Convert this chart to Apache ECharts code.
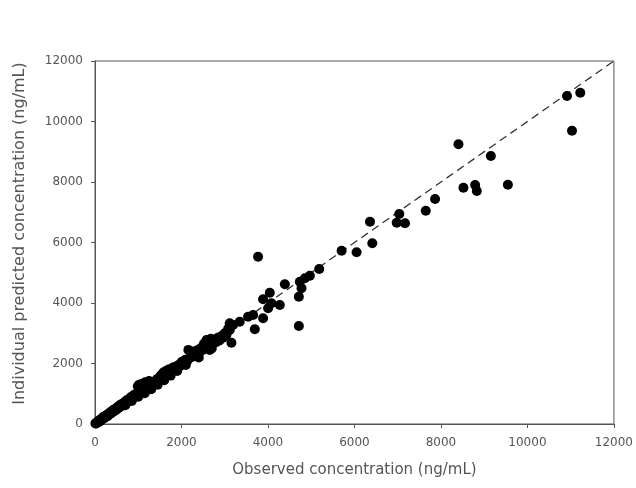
<!DOCTYPE html>
<html>
<head>
<meta charset="utf-8">
<script src="https://cdn.jsdelivr.net/npm/echarts@6/dist/echarts.min.js"></script>
<style>html,body{margin:0;padding:0;background:#fff;}#c{width:636px;height:488px;}</style>
</head>
<body>
<div id="c"></div>
<script>
var xTicks = [0, 2000, 4000, 6000, 8000, 10000, 12000];
var yTicks = [0, 2000, 4000, 6000, 8000, 10000, 12000];
var xAxisName = 'Observed concentration (ng/mL)';
var yAxisName = 'Individual predicted concentration (ng/mL)';
var identityLine = [[0, 0], [12000, 12000]];

var observed = [
  10,30,50,70,90,110,130,150,170,190,210,230,250,270,290,310,330,350,370,390,410,430,450,470,490,
  520,540,570,600,620,650,680,700,730,760,790,810,840,870,900,920,950,980,
  990,1020,1050,1080,1100,1130,1160,1190,1220,1250,1280,1310,1340,1370,1400,1430,1460,1490,
  1520,1550,1580,1610,1640,1670,1700,1730,1760,1790,1820,1850,1880,1910,1940,1970,
  2010,2050,2090,2130,2160,2190,2230,2270,2300,2340,2380,2420,2460,
  2490,2520,2560,2580,2600,2640,2652,2680,2700,2720,2760,2800,2840,2880,2920,2960,3000,3040,3080,3116,3155,3192,3116,
  700,850,1000,1150,1300,1450,1600,1750,1900,2100,2400,
  3347,3540,3656,3695,3771,3887,3887,4003,4042,4081,4274,4390,4714,4714,4737,4776,4853,4969,5185,
  5703,6050,6359,6413,6977,7037,7169,7649,7864,8405,8520,8791,8830,9154,9548,10915,11031,11222
];
var predicted = [
  20,15,60,90,70,130,110,170,160,230,190,260,240,300,260,340,320,390,350,420,400,470,430,500,470,
  560,520,620,580,660,630,720,680,780,740,830,800,900,850,960,890,1000,950,
  1250,1300,1080,1320,1050,1200,1380,1150,1260,1420,1240,1350,1300,1400,1360,1480,1420,1520,
  1600,1500,1700,1620,1750,1640,1800,1700,1820,1760,1880,1800,1900,1870,1960,1920,
  2060,1990,2120,2080,2450,2180,2300,2230,2400,2320,2450,2380,2520,
  2446,2650,2560,2777,2750,2700,2446,2820,2500,2650,2780,2700,2850,2760,2900,2850,3000,2950,3150,3107,2688,3273,3328,
  620,760,900,1020,1150,1300,1450,1600,1750,1950,2200,
  3382,3548,3603,3130,5531,4122,3494,3824,4341,3990,3934,4618,4209,3240,4705,4485,4816,4903,5124,
  5729,5675,6688,5973,6655,6942,6634,7052,7438,9246,7812,7901,7702,8860,7912,10843,9697,10952
];

var points = observed.map(function (v, i) { return [v, predicted[i]]; });

var chart = echarts.init(document.getElementById('c'), null, {renderer: 'canvas'});
var FONT = 'DejaVu Sans, Arial, sans-serif';
var labelStyle = {color: '#555', fontFamily: FONT, fontSize: 12,
  formatter: function (v) { return String(v); }};
chart.setOption({
  animation: false,
  backgroundColor: '#fff',
  grid: {left: 95, right: 22, top: 61, bottom: 64, show: true, borderColor: '#555', borderWidth: 1, backgroundColor: 'transparent'},
  xAxis: {
    type: 'value', min: xTicks[0], max: xTicks[xTicks.length - 1], interval: xTicks[1] - xTicks[0],
    name: xAxisName, nameLocation: 'middle', nameGap: 39,
    nameTextStyle: {color: '#555', fontFamily: FONT, fontSize: 15},
    axisLine: {show: true, lineStyle: {color: '#555', width: 1}},
    axisTick: {show: true, inside: false, length: 4, lineStyle: {color: '#555'}},
    axisLabel: Object.assign({margin: 13}, labelStyle),
    splitLine: {show: false}
  },
  yAxis: {
    type: 'value', min: yTicks[0], max: yTicks[yTicks.length - 1], interval: yTicks[1] - yTicks[0],
    name: yAxisName, nameLocation: 'middle', nameGap: 67,
    nameTextStyle: {color: '#555', fontFamily: FONT, fontSize: 16, padding: [0, 0, 0, 18]},
    axisLine: {show: true, lineStyle: {color: '#555', width: 1}},
    axisTick: {show: true, inside: false, length: 4, lineStyle: {color: '#555'}},
    axisLabel: Object.assign({margin: 12}, labelStyle),
    splitLine: {show: false}
  },
  series: [
    {
      type: 'line', data: identityLine, symbol: 'none', silent: true,
      lineStyle: {color: '#333', width: 1.3, type: [8, 5]}, z: 1
    },
    {
      type: 'scatter', data: points, symbol: 'circle', symbolSize: 10,
      itemStyle: {color: '#000', opacity: 1}, z: 2
    }
  ]
});
</script>
</body>
</html>
